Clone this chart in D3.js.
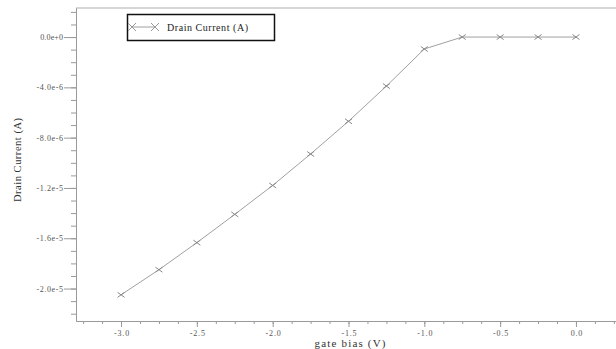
<!DOCTYPE html>
<html>
<head>
<meta charset="utf-8">
<script src="https://cdn.jsdelivr.net/npm/d3@7"></script>
<style>
  body { margin: 0; background: #fff; }
  svg text { font-family: "Liberation Serif", "DejaVu Serif", serif; }
</style>
</head>
<body>
<div id="chart"></div>
<script>
// gate bias sweep vs drain current
const gateBias = [-3.0, -2.75, -2.5, -2.25, -2.0, -1.75, -1.5, -1.25, -1.0, -0.75, -0.5, -0.25, 0.0];
const drainCurrent = [-2.05e-5, -1.85e-5, -1.635e-5, -1.41e-5, -1.18e-5, -9.3e-6, -6.7e-6, -3.9e-6, -9.5e-7, 0, 0, 0, 0];

const xTicks = [-3.0, -2.5, -2.0, -1.5, -1.0, -0.5, 0.0];
const yTicks = [0, -4e-6, -8e-6, -1.2e-5, -1.6e-5, -2.0e-5];
const yTickLabels = ['0.0e+0', '-4.0e-6', '-8.0e-6', '-1.2e-5', '-1.6e-5', '-2.0e-5'];
const seriesName = 'Drain Current (A)';

const svgWidth = 616;
const svgHeight = 349;
const plot = { left: 76, right: 616, top: 8, bottom: 321 };

const svg = d3.select('#chart')
    .append('svg')
    .attr('width', svgWidth)
    .attr('height', svgHeight);

const xScale = d3.scaleLinear()
    .domain([-3.297, 0.264])
    .range([plot.left, plot.right]);
const yScale = d3.scaleLinear()
    .domain([-2.258e-5, 2.31e-6])
    .range([plot.bottom, plot.top]);

// top frame line
svg.append('line')
    .attr('x1', plot.left).attr('x2', plot.right)
    .attr('y1', plot.top).attr('y2', plot.top)
    .attr('stroke', '#c8c8c8')
    .attr('stroke-width', 1.5);

const axisColor = '#9a9a9a';
// the original font is a fixed-width one, so spread labels to ~4px per char
function styleAxis(g) {
    g.selectAll('path').attr('stroke', axisColor);
    g.selectAll('line').attr('stroke', axisColor);
    g.selectAll('text')
        .attr('fill', '#555')
        .style('font-size', '8px')
        .attr('textLength', function() { return this.textContent.length * 3.8; })
        .attr('lengthAdjust', 'spacing');
}

// x axis: minor then major ticks
const xMinor = d3.range(-3.25, 0.26, 0.125);
svg.append('g')
    .attr('transform', `translate(0,${plot.bottom})`)
    .call(d3.axisBottom(xScale).tickValues(xMinor).tickSize(3).tickFormat('').tickSizeOuter(0))
    .call(styleAxis);
svg.append('g')
    .attr('transform', `translate(0,${plot.bottom})`)
    .call(d3.axisBottom(xScale).tickValues(xTicks).tickSize(6).tickPadding(3)
        .tickFormat(d => d.toFixed(1)).tickSizeOuter(0))
    .call(styleAxis);

// y axis: minor then major ticks
const yMinor = d3.range(-22, 3, 1).map(v => v * 1e-6);
svg.append('g')
    .attr('transform', `translate(${plot.left},0)`)
    .call(d3.axisLeft(yScale).tickValues(yMinor).tickSize(5).tickFormat('').tickSizeOuter(0))
    .call(styleAxis);
svg.append('g')
    .attr('transform', `translate(${plot.left},0)`)
    .call(d3.axisLeft(yScale).tickValues(yTicks).tickSize(12).tickPadding(1)
        .tickFormat((d, i) => yTickLabels[i]).tickSizeOuter(0))
    .call(styleAxis);

// axis titles
svg.append('text')
    .attr('x', 350)
    .attr('y', 346.5)
    .attr('text-anchor', 'middle')
    .attr('fill', '#333')
    .style('font-size', '11px')
    .attr('textLength', 71)
    .attr('lengthAdjust', 'spacing')
    .text('gate bias (V)');
svg.append('text')
    .attr('transform', 'translate(21,160) rotate(-90)')
    .attr('text-anchor', 'middle')
    .attr('fill', '#333')
    .style('font-size', '10.5px')
    .attr('textLength', 84)
    .attr('lengthAdjust', 'spacing')
    .text('Drain Current (A)');

const points = gateBias.map((g, i) => ({ x: g, y: drainCurrent[i] }));

const line = d3.line()
    .x(d => xScale(d.x))
    .y(d => yScale(d.y));

svg.append('path')
    .datum(points)
    .attr('d', line)
    .attr('fill', 'none')
    .attr('stroke', '#a0a0a0')
    .attr('stroke-width', 1);

function cross(cx, cy, w, h) {
    return `M${cx - w},${cy - h}L${cx + w},${cy + h}M${cx - w},${cy + h}L${cx + w},${cy - h}`;
}

svg.selectAll('.marker')
    .data(points)
    .enter()
    .append('path')
    .attr('class', 'marker')
    .attr('d', d => cross(xScale(d.x), yScale(d.y), 3.5, 2.5))
    .attr('stroke', '#888')
    .attr('stroke-width', 1)
    .attr('fill', 'none');

// legend
const legend = svg.append('g');
legend.append('rect')
    .attr('x', 127.5).attr('y', 14.5)
    .attr('width', 147).attr('height', 26)
    .attr('fill', '#fff')
    .attr('stroke', '#111')
    .attr('stroke-width', 1.5);
legend.append('line')
    .attr('x1', 132).attr('x2', 155)
    .attr('y1', 27).attr('y2', 27)
    .attr('stroke', '#a0a0a0');
legend.append('path')
    .attr('d', cross(132, 27, 4, 4) + cross(155, 27, 4, 4))
    .attr('stroke', '#999')
    .attr('fill', 'none');
legend.append('text')
    .attr('x', 167)
    .attr('y', 30.5)
    .attr('fill', '#222')
    .style('font-size', '10px')
    .attr('textLength', 81)
    .attr('lengthAdjust', 'spacing')
    .text(seriesName);
</script>
</body>
</html>
